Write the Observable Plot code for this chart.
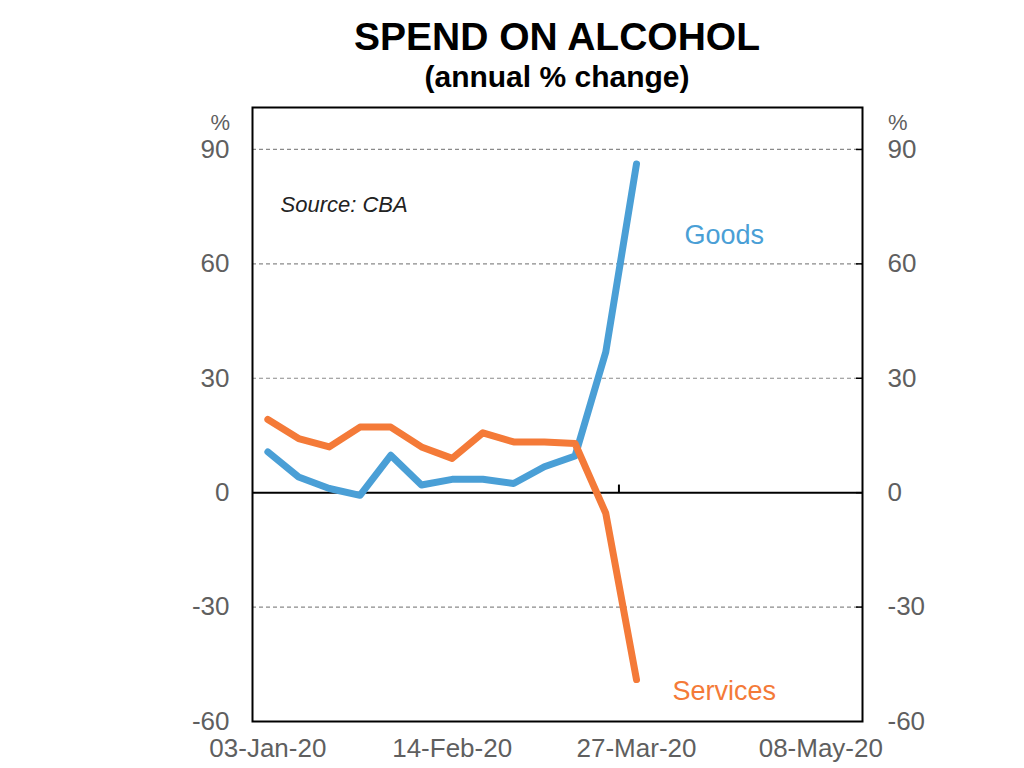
<!DOCTYPE html>
<html>
<head>
<meta charset="utf-8">
<script src="https://cdn.jsdelivr.net/npm/d3@7"></script>
<script src="https://cdn.jsdelivr.net/npm/@observablehq/plot@0.6"></script>
<style>
  html, body { margin: 0; padding: 0; background: #fff; }
  #wrap { position: relative; width: 1024px; height: 768px; font-family: "Liberation Sans", Arial, sans-serif; }
  #wrap svg { position: absolute; left: 0; top: 0; }
  .title { position: absolute; left: 207px; width: 700px; text-align: center; font-weight: bold; color: #000; }
  #t1 { top: 14px; font-size: 39px; line-height: 46px; }
  #t2 { top: 60px; font-size: 30px; line-height: 34px; }
</style>
</head>
<body>
<div id="wrap">
  <div class="title" id="t1">SPEND ON ALCOHOL</div>
  <div class="title" id="t2">(annual % change)</div>
</div>
<script>
const weeks = ["2020-01-03","2020-01-10","2020-01-17","2020-01-24","2020-01-31","2020-02-07","2020-02-14","2020-02-21","2020-02-28","2020-03-06","2020-03-13","2020-03-20","2020-03-27"];
const goods = [10.7, 4.1, 1.1, -0.7, 9.8, 2.0, 3.5, 3.5, 2.4, 6.8, 9.6, 36.9, 86.2];
const services = [19.2, 14.2, 12.0, 17.2, 17.2, 12.0, 9.0, 15.7, 13.3, 13.3, 12.9, -5.4, -49.0];
const xTickLabels = ["2020-01-03","2020-02-14","2020-03-27","2020-05-08"];
const yTicks = [-60, -30, 0, 30, 60, 90];
const seriesLabels = [
  {name: "Goods", date: "2020-04-16", value: 67.6},
  {name: "Services", date: "2020-04-16", value: -52.1}
];
const zeroTick = ["2020-03-23"];

const parse = d3.utcParse("%Y-%m-%d");
const colors = {Goods: "#4a9fd6", Services: "#f47a38"};
const rows = [];
weeks.forEach((w, i) => {
  rows.push({date: parse(w), value: goods[i], series: "Goods"});
  rows.push({date: parse(w), value: services[i], series: "Services"});
});
const labels = seriesLabels.map(d => ({...d, date: parse(d.date)}));

const grey = "#5f5f5f";
const fmt = d => String(d);
const chart = Plot.plot({
  width: 1024,
  height: 768,
  marginTop: 107,
  marginBottom: 47,
  marginLeft: 252,
  marginRight: 162,
  style: {fontFamily: "Liberation Sans, Arial, sans-serif", background: "transparent"},
  x: {type: "utc", domain: [new Date(Date.UTC(2019, 11, 30, 12)), new Date(Date.UTC(2020, 4, 17, 12))]},
  y: {domain: [-60, 101]},
  marks: [
    Plot.ruleY(yTicks.filter(v => v !== 0 && v !== -60), {stroke: "#8a8a8a", strokeWidth: 1.2, strokeDasharray: "4,3"}),
    Plot.axisY(yTicks, {anchor: "left", tickSize: 0, tickPadding: 23, fontSize: 26, color: grey, tickFormat: fmt, label: null}),
    Plot.axisY(yTicks, {anchor: "right", tickSize: 0, tickPadding: 25, fontSize: 26, color: grey, tickFormat: fmt, label: null}),
    Plot.axisY(yTicks.filter(v => v !== -60), {anchor: "right", tickSize: -7, tickFormat: () => "", stroke: "#000", strokeWidth: 1.5, label: null}),
    Plot.axisX(xTickLabels.map(parse), {anchor: "bottom", tickSize: 0, tickPadding: 17, fontSize: 26, color: grey, tickFormat: d3.utcFormat("%d-%b-%y"), label: null}),
    Plot.ruleY([0], {stroke: "#000", strokeWidth: 2}),
    Plot.ruleX(zeroTick.map(parse), {y1: 0, y2: 2, stroke: "#000", strokeWidth: 2}),
    Plot.line(rows, {x: "date", y: "value", z: "series", stroke: d => colors[d.series], strokeWidth: 7, strokeLinejoin: "round", strokeLinecap: "round"}),
    Plot.text(labels, {x: "date", y: "value", text: "name", fill: d => colors[d.name], fontSize: 27, textAnchor: "middle"}),
    Plot.text(["Source: CBA"], {frameAnchor: "top-left", dx: 28, dy: 89, fontSize: 22, fontStyle: "italic", fill: "#222", textAnchor: "start"}),
    Plot.text(["%"], {frameAnchor: "top-left", dx: -42, dy: 7, fontSize: 22, fill: grey}),
    Plot.text(["%"], {frameAnchor: "top-right", dx: 45, dy: 7, fontSize: 22, fill: grey}),
    Plot.frame({stroke: "#000", strokeWidth: 2})
  ]
});
document.getElementById("wrap").prepend(chart);
</script>
</body>
</html>
